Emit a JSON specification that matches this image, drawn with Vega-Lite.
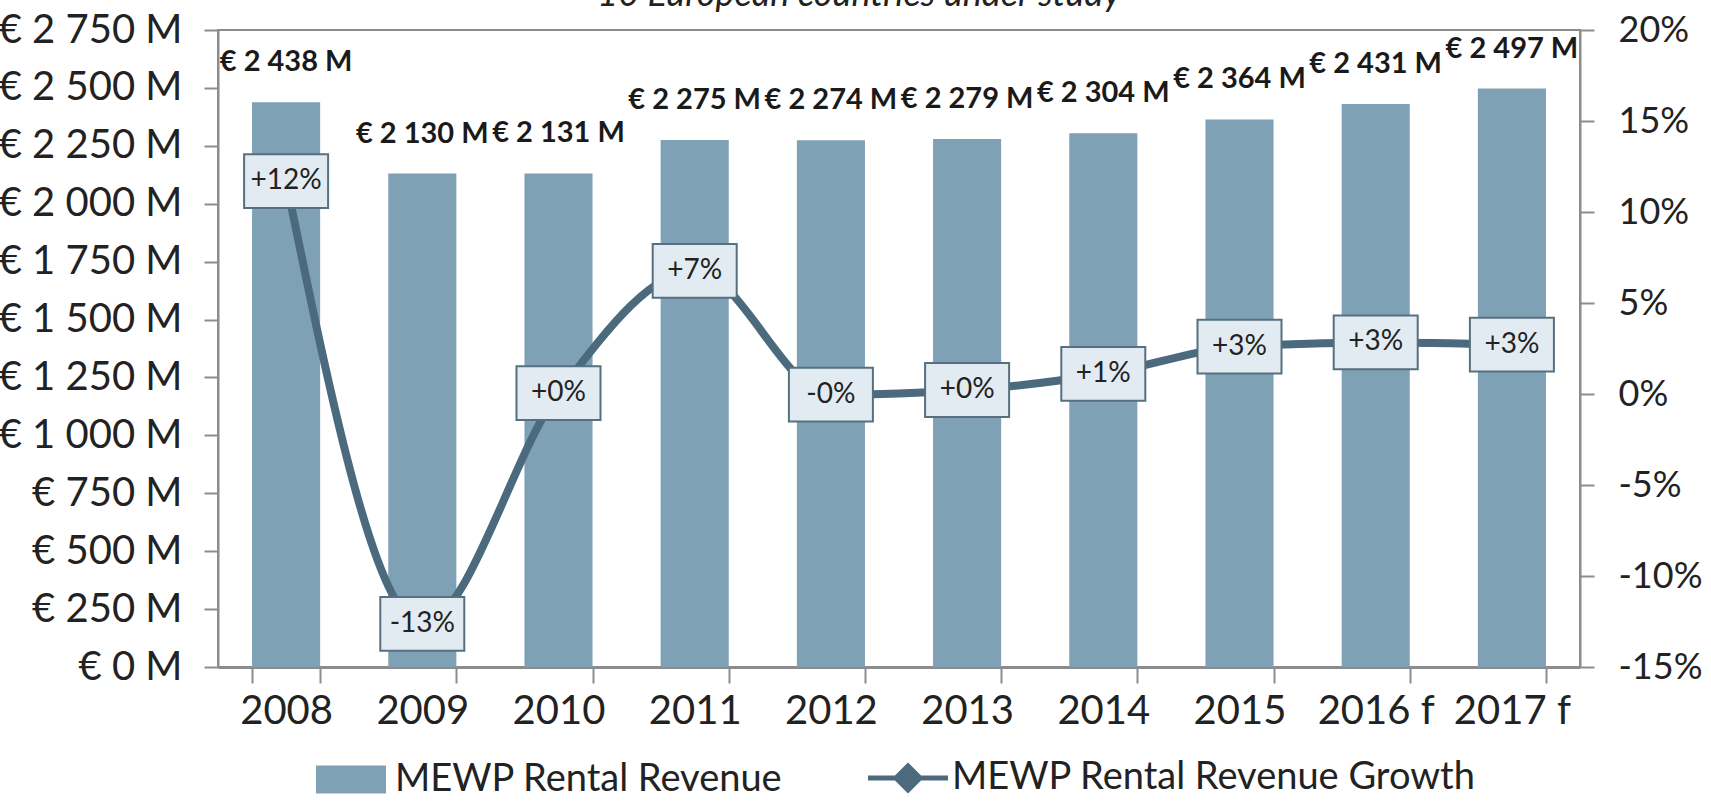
{
  "$schema": "https://vega.github.io/schema/vega-lite/v6.json",
  "autosize": {"type": "none"},
  "padding": {"left": 218, "top": 30, "right": 131, "bottom": 134},
  "width": 1362,
  "height": 637,
  "background": "white",
  "title": {
    "text": "10 European countries under study",
    "font": "Lato",
    "fontStyle": "italic",
    "fontWeight": "normal",
    "fontSize": 36,
    "color": "#222222",
    "anchor": "middle",
    "baseline": "alphabetic",
    "offset": -32,
    "dx": -40
  },
  "data": {
    "values": [
      {"year": "2008", "revenue": 2438, "growth": 0.117, "rev_label": "€ 2 438 M", "growth_label": "+12%"},
      {"year": "2009", "revenue": 2130, "growth": -0.1263, "rev_label": "€ 2 130 M", "growth_label": "-13%"},
      {"year": "2010", "revenue": 2131, "growth": 0.0005, "rev_label": "€ 2 131 M", "growth_label": "+0%"},
      {"year": "2011", "revenue": 2275, "growth": 0.0676, "rev_label": "€ 2 275 M", "growth_label": "+7%"},
      {"year": "2012", "revenue": 2274, "growth": -0.0004, "rev_label": "€ 2 274 M", "growth_label": "-0%"},
      {"year": "2013", "revenue": 2279, "growth": 0.0022, "rev_label": "€ 2 279 M", "growth_label": "+0%"},
      {"year": "2014", "revenue": 2304, "growth": 0.011, "rev_label": "€ 2 304 M", "growth_label": "+1%"},
      {"year": "2015", "revenue": 2364, "growth": 0.026, "rev_label": "€ 2 364 M", "growth_label": "+3%"},
      {"year": "2016 f", "revenue": 2431, "growth": 0.0283, "rev_label": "€ 2 431 M", "growth_label": "+3%"},
      {"year": "2017 f", "revenue": 2497, "growth": 0.0271, "rev_label": "€ 2 497 M", "growth_label": "+3%"}
    ]
  },
  "encoding": {
    "x": {
      "field": "year",
      "type": "nominal",
      "sort": null,
      "scale": {"paddingInner": 0.5, "paddingOuter": 0.25},
      "axis": {
        "title": null,
        "labelAngle": 0,
        "labelFont": "Lato",
        "labelFontSize": 40,
        "labelColor": "#222222",
        "labelPadding": 8,
        "labelLimit": 0,
        "tickBand": "extent",
        "tickSize": 16,
        "tickWidth": 2,
        "tickColor": "#8c8c8c",
        "domainColor": "#8c8c8c",
        "domainWidth": 3
      }
    }
  },
  "layer": [
    {
      "encoding": {
        "y": {
          "field": "revenue",
          "type": "quantitative",
          "scale": {"domain": [0, 2750], "nice": false, "zero": true},
          "axis": {
            "title": null,
            "orient": "left",
            "values": [0, 250, 500, 750, 1000, 1250, 1500, 1750, 2000, 2250, 2500, 2750],
            "labelExpr": "'€ ' + replace(format(datum.value, ',d'), ',', ' ') + ' M'",
            "labelFont": "Lato",
            "labelFontSize": 40,
            "labelColor": "#222222",
            "labelPadding": 22,
            "labelLimit": 0,
            "tickSize": 14,
            "tickWidth": 2,
            "tickColor": "#8c8c8c",
            "domainColor": "#8c8c8c",
            "domainWidth": 2,
            "grid": false,
            "encode": {"ticks": {"update": {"x": {"value": 14}}}}
          }
        }
      },
      "layer": [
        {
          "mark": {"type": "bar", "color": "#7ea1b6"},
          "encoding": {
            "color": {
              "datum": "MEWP Rental Revenue",
              "type": "nominal",
              "scale": {
                "domain": ["MEWP Rental Revenue", "MEWP Rental Revenue Growth"],
                "range": ["#7ea1b6", "#4b6a7d"]
              },
              "legend": {
                "title": null,
                "orient": "none",
                "direction": "horizontal",
                "columns": 2,
                "legendX": 114,
                "legendY": 729,
                "labelFont": "Lato",
                "labelFontSize": 38,
                "labelColor": "#222222",
                "labelLimit": 0,
                "labelOffset": 25,
                "columnPadding": 75,
                "symbolSize": 6400,
                "symbolStrokeWidth": 5,
                "encode": {
                  "symbols": {
                    "enter": {
                      "shape": {"signal": "datum.value === 'MEWP Rental Revenue' ? 'M-0.875,-0.35H0.875V0.35H-0.875Z' : 'M-1,0H-0.3M0.3,0H1M0,-0.3L0.3,0L0,0.3L-0.3,0Z'"},
                      "fill": {"signal": "datum.value === 'MEWP Rental Revenue' ? '#7ea1b6' : '#c9f1fb'"},
                      "stroke": {"signal": "datum.value === 'MEWP Rental Revenue' ? 'transparent' : '#4b6a7d'"},
                      "strokeWidth": {"signal": "datum.value === 'MEWP Rental Revenue' ? 0 : 5"}
                    },
                    "update": {
                      "shape": {"signal": "datum.value === 'MEWP Rental Revenue' ? 'M-0.875,-0.35H0.875V0.35H-0.875Z' : 'M-1,0H-0.3M0.3,0H1M0,-0.3L0.3,0L0,0.3L-0.3,0Z'"},
                      "fill": {"signal": "datum.value === 'MEWP Rental Revenue' ? '#7ea1b6' : '#c9f1fb'"},
                      "stroke": {"signal": "datum.value === 'MEWP Rental Revenue' ? 'transparent' : '#4b6a7d'"},
                      "strokeWidth": {"signal": "datum.value === 'MEWP Rental Revenue' ? 0 : 5"},
                      "opacity": {"value": 1},
                      "fillOpacity": {"value": 1}
                    }
                  }
                }
              }
            }
          }
        },
        {
          "mark": {
            "type": "text",
            "font": "Lato",
            "fontWeight": "bold",
            "fontSize": 29,
            "baseline": "middle",
            "dy": -40,
            "color": "#1a1a1a"
          },
          "encoding": {
            "text": {"field": "rev_label", "type": "nominal"}
          }
        }
      ]
    },
    {
      "encoding": {
        "y": {
          "field": "growth",
          "type": "quantitative",
          "scale": {"domain": [-0.15, 0.2], "nice": false, "zero": false},
          "axis": {
            "title": null,
            "orient": "right",
            "values": [-0.15, -0.1, -0.05, 0, 0.05, 0.1, 0.15, 0.2],
            "format": ".0%",
            "labelExpr": "replace(datum.label, '−', '-')",
            "labelFont": "Lato",
            "labelFontSize": 36,
            "labelColor": "#222222",
            "labelPadding": 24,
            "labelLimit": 0,
            "tickSize": 14,
            "tickWidth": 2,
            "tickColor": "#8c8c8c",
            "domainColor": "#8c8c8c",
            "domainWidth": 2,
            "grid": false,
            "encode": {"ticks": {"update": {"x": {"value": -14}}}}
          }
        }
      },
      "layer": [
        {
          "mark": {"type": "line", "interpolate": "monotone", "strokeWidth": 8, "color": "#4b6a7d"},
          "encoding": {
            "color": {"datum": "MEWP Rental Revenue Growth", "type": "nominal"}
          }
        },
        {
          "mark": {
            "type": "point",
            "shape": "M-1,-0.64H1V0.64H-1Z",
            "size": 7056,
            "filled": true,
            "fill": "#e2ebf1",
            "stroke": "#56707f",
            "strokeWidth": 2,
            "opacity": 1
          }
        },
        {
          "mark": {
            "type": "text",
            "font": "Lato",
            "fontSize": 28,
            "baseline": "middle",
            "color": "#222222"
          },
          "encoding": {
            "text": {"field": "growth_label", "type": "nominal"}
          }
        }
      ]
    }
  ],
  "resolve": {"scale": {"y": "independent"}},
  "config": {
    "view": {"stroke": "#8c8c8c", "strokeWidth": 2},
    "axis": {"grid": false},
    "font": "Lato"
  }
}
